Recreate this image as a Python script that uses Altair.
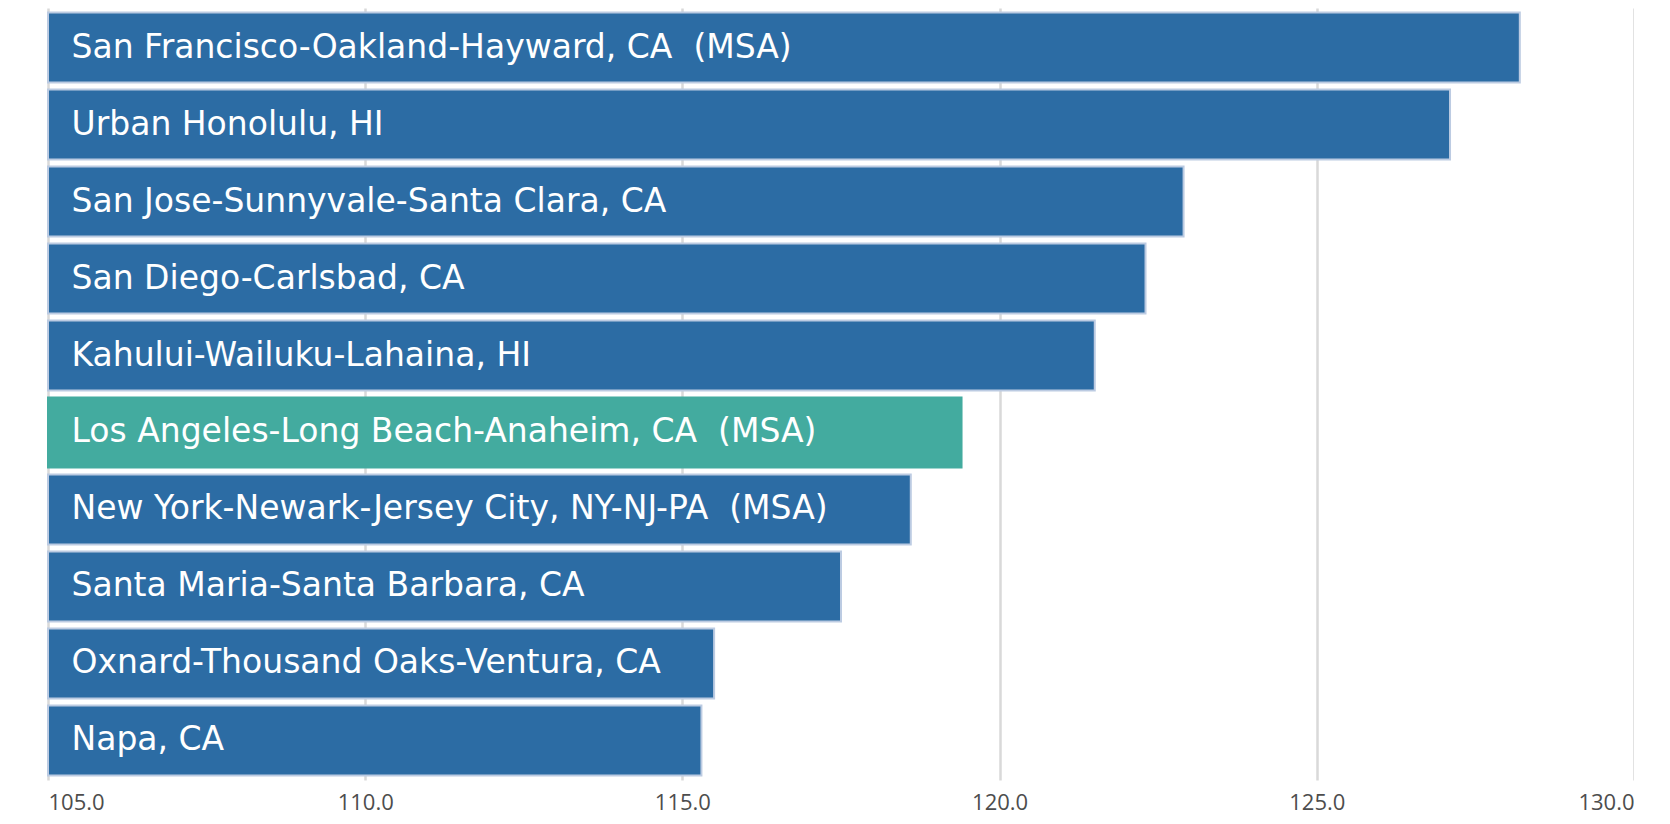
import altair as alt
import pandas as pd

metros = [
    "San Francisco-Oakland-Hayward, CA\u00a0 (MSA)",
    "Urban Honolulu, HI",
    "San Jose-Sunnyvale-Santa Clara, CA",
    "San Diego-Carlsbad, CA",
    "Kahului-Wailuku-Lahaina, HI",
    "Los Angeles-Long Beach-Anaheim, CA\u00a0 (MSA)",
    "New York-Newark-Jersey City, NY-NJ-PA\u00a0 (MSA)",
    "Santa Maria-Santa Barbara, CA",
    "Oxnard-Thousand Oaks-Ventura, CA",
    "Napa, CA",
]
values = [128.2, 127.1, 122.9, 122.3, 121.5, 119.4, 118.6, 117.5, 115.5, 115.3]
highlight = [False, False, False, False, False, True, False, False, False, False]
x_ticks = [105, 110, 115, 120, 125, 130]

df = pd.DataFrame({"metro": metros, "value": values, "highlight": highlight})
df["base"] = 105.0

x_scale = alt.Scale(domain=[105, 130], nice=False, zero=False)
y_enc = alt.Y("metro:N", sort=None, axis=None,
              scale=alt.Scale(paddingInner=0.09, paddingOuter=0.058))

bars = alt.Chart(df).mark_bar(cornerRadius=0).encode(
    x=alt.X("base:Q", scale=x_scale,
            axis=alt.Axis(values=x_ticks, format=".1f", title=None,
                          grid=True, gridColor="#d9d9d9", gridWidth=2.5,
                          domain=False, ticks=False,
                          labelFont="Open Sans", labelFontSize=22,
                          labelColor="#4d4d4d", labelPadding=12,
                          labelBaseline="top")),
    x2="value:Q",
    y=y_enc,
    color=alt.condition(alt.datum.highlight, alt.value("#43AB9F"), alt.value("#2C6CA4")),
    stroke=alt.condition(alt.datum.highlight, alt.value("#43AB9F"), alt.value("#bccbe2")),
    strokeWidth=alt.value(2),
)

labels = alt.Chart(df).mark_text(
    align="left", baseline="middle", dx=23.5, color="white",
    font="DejaVu Sans", fontSize=33,
).encode(
    x=alt.X("base:Q", scale=x_scale),
    y=y_enc,
    text="metro:N",
)

chart = alt.layer(bars, labels).properties(
    width=1586, height=772,
    padding={"left": 40, "top": 0, "right": 0, "bottom": 36},
    autosize=alt.AutoSizeParams(type="none"),
).configure_view(stroke=None)

chart.save("out.html", embed_options={"renderer": "svg", "actions": False})
